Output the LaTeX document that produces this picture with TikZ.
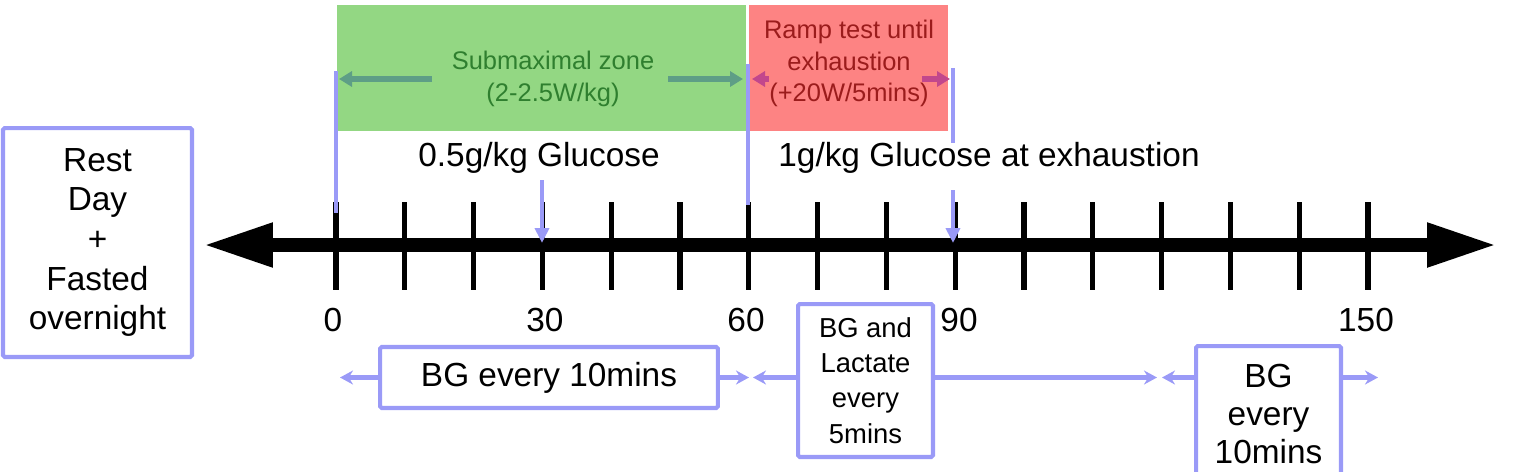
\documentclass[tikz,border=0pt]{standalone}
\usepackage{fontspec}
\setmainfont{Liberation Sans}
\usetikzlibrary{arrows.meta}

\definecolor{lav}{HTML}{9A9AF7}
\definecolor{zonegreen}{HTML}{93D783}
\definecolor{zonered}{HTML}{FD8383}
\definecolor{txtgreen}{HTML}{2F7F2F}
\definecolor{txtred}{HTML}{9B1C1C}
\definecolor{arrteal}{HTML}{5E9E86}
\definecolor{arrpink}{HTML}{C2478C}

\tikzset{
  txt/.style={inner sep=0pt, font=\fontsize{19}{22.5}\selectfont},
  bluebox/.style={draw=lav, line width=2.3pt, rounded corners=1pt, align=center,
    inner sep=0pt, font=\fontsize{19}{22.5}\selectfont},
  zone/.style={inner sep=0pt, minimum height=2.52cm},
  zonetext/.style={align=center, inner sep=0pt, font=\fontsize{14.5}{17.9}\selectfont},
  axis/.style={line width=8pt,
    {Triangle[length=1.4cm,width=0.82cm]}-{Triangle[length=1.4cm,width=0.82cm]}},
  tick/.style={line width=2.9pt},
  vline/.style={draw=lav, line width=2.3pt},
  vdrop/.style={draw=lav, line width=2.3pt, -{Triangle[length=0.3cm,width=0.28cm]}},
  bluearr/.style={draw=lav, line width=2.3pt, -{Stealth[length=0.26cm,width=0.28cm]}},
  tealarr/.style={draw=arrteal, line width=3pt, -{Triangle[length=0.26cm,width=0.3cm]}},
  pinkarr/.style={draw=arrpink, line width=3pt, -{Triangle[length=0.26cm,width=0.3cm]}}
}

\begin{document}
\begin{tikzpicture}[x=0.02cm,y=-0.02cm]
  % page frame
  \useasboundingbox (0,0) rectangle (1522,471);

  % zones
  \node[zone, fill=zonegreen, minimum width=8.18cm] (green) at (541.5,68) {};
  \node[zone, fill=zonered, minimum width=3.98cm] (red) at (848.5,68) {};
  \node[zonetext, text=txtgreen] (subtxt) at (553,79) {Submaximal zone\\(2-2.5W/kg)};
  \node[zonetext, text=txtred] (ramptxt) at (849,63.5) {Ramp test until\\exhaustion\\(+20W/5mins)};

  % time axis
  \coordinate (axL) at (203,245);
  \coordinate (axR) at (1497,245);
  \foreach \i in {0,...,15}
    \draw[tick] ({336+68.8*\i},202) -- ({336+68.8*\i},290);
  \draw[axis] (axL) -- (axR);

  % minutes
  \node[txt] (n0) at (333,320) {0};
  \node[txt] (n30) at (545,320) {30};
  \node[txt] (n60) at (746,320) {60};
  \node[txt] (n90) at (959,320) {90};
  \node[txt] (n150) at (1366,320) {150};

  % glucose
  \node[txt] (gluA) at (539,158) {0.5g/kg Glucose};
  \node[txt] (gluB) at (989,158) {1g/kg Glucose at exhaustion};

  % markers
  \coordinate (m0a) at (336,71);   \coordinate (m0b) at (336,213);
  \coordinate (m60a) at (748,64);  \coordinate (m60b) at (748,205);
  \coordinate (m90a) at (953,68);  \coordinate (m90b) at (953,143);
  \coordinate (m90c) at (953,190); \coordinate (m90d) at (953,243);
  \coordinate (m30a) at (542,180); \coordinate (m30b) at (542,243);
  \draw[vline] (m0a) -- (m0b);
  \draw[vline] (m60a) -- (m60b);
  \draw[vline] (m90a) -- (m90b);
  \draw[vdrop] (m90c) -- (m90d);
  \draw[vdrop] (m30a) -- (m30b);

  % zone arrows
  \coordinate (za) at (432,79); \coordinate (zb) at (339,79);
  \coordinate (zc) at (668,79); \coordinate (zd) at (743,79);
  \coordinate (ze) at (769,79); \coordinate (zf) at (752,79);
  \coordinate (zg) at (922,79); \coordinate (zh) at (950,79);
  \draw[tealarr] (za) -- (zb);
  \draw[tealarr] (zc) -- (zd);
  \draw[pinkarr] (ze) -- (zf);
  \draw[pinkarr] (zg) -- (zh);

  % boxes
  \node[bluebox, minimum width=3.78cm, minimum height=4.58cm] (rest) at (97.5,242.5)
    {Rest\\Day\\+\\Fasted\\overnight};
  \node[bluebox, minimum width=6.76cm, minimum height=1.22cm] (bg10) at (549,377.5)
    {BG every 10mins};
  \node[bluebox, font=\fontsize{15.6}{20}\selectfont, minimum width=2.7cm,
    minimum height=3.06cm] (bglac) at (865.5,380.5) {BG and\\Lactate\\every\\5mins};
  \node[bluebox, font=\fontsize{19}{21.6}\selectfont, minimum width=2.9cm,
    minimum height=2.72cm] (bgend) at (1268.5,414) {BG\\every\\10mins};

  % sampling arrows
  \coordinate (e0) at (340,377.5);
  \coordinate (e60a) at (749,377.5);
  \coordinate (e60b) at (753,377.5);
  \coordinate (e120a) at (1157,377.5);
  \coordinate (e120b) at (1162,377.5);
  \coordinate (e150) at (1378,377.5);
  \draw[bluearr] (bg10.west) -- (e0);
  \draw[bluearr] (bg10.east) -- (e60a);
  \draw[bluearr] (bglac.west |- bg10.west) -- (e60b);
  \draw[bluearr] (bglac.east |- bg10.east) -- (e120a);
  \draw[bluearr] (bgend.west |- bg10.west) -- (e120b);
  \draw[bluearr] (bgend.east |- bg10.east) -- (e150);
\end{tikzpicture}
\end{document}
